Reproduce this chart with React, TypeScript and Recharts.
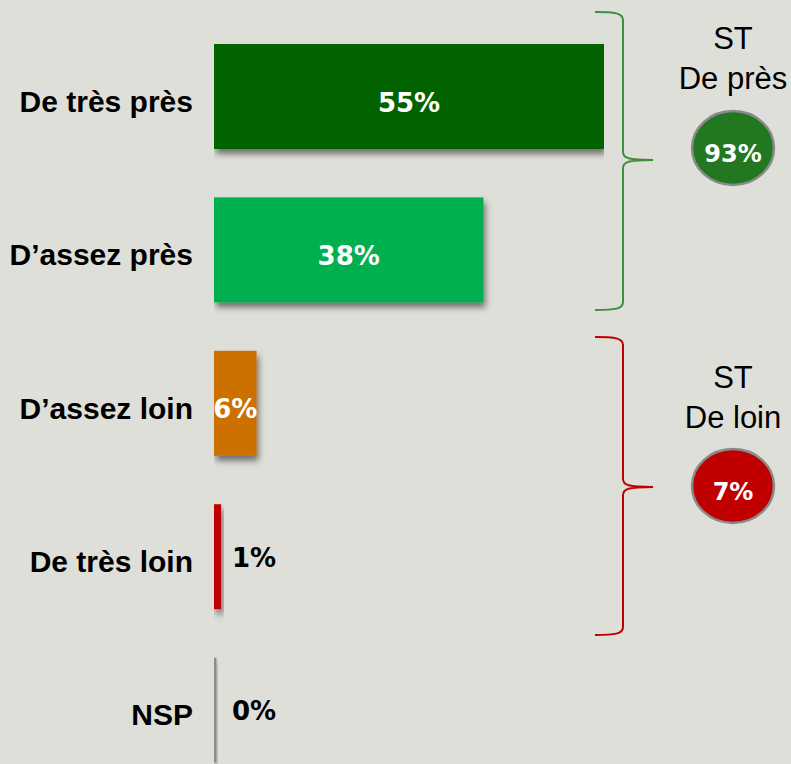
import React from 'react';
import { BarChart, Bar, XAxis, YAxis, Cell, LabelList } from 'recharts';

// Survey answers, top to bottom
const categories = ['De très près', 'D’assez près', 'D’assez loin', 'De très loin', 'NSP'];
const values = [55, 38, 6, 1, 0];
const barColors = ['#006400', '#00b050', '#cc7000', '#c00000', '#8c8c8c'];

// Sub-totals shown on the right
const groupTitles = ['De près', 'De loin'];
const groupTotals = [93, 7];
const groupColors = ['#217821', '#c00000'];
const braceColors = ['#3c8f3c', '#c00000'];

const BG = '#dfdfda';
const LABEL_FONT = '"Liberation Sans", Arial, sans-serif';
const VALUE_FONT = '"DejaVu Sans", Verdana, sans-serif';

const data = categories.map((name, i) => ({ name, value: values[i] }));

const CategoryTick = (props: any) => {
    const { x, y, payload } = props;
    return (
        <text x={x} y={y + 15} textAnchor="end" fontFamily={LABEL_FONT} fontWeight="bold" fontSize={30} fill="#000">
            {payload.value}
        </text>
    );
};

const BarShape = (props: any) => {
    const { x, y, width, height, fill } = props;
    const w = Math.max(width, 2.5); // NSP (0%) still shows a thin line
    return <rect x={x} y={y} width={w} height={height} fill={fill} filter="url(#barShadow)" />;
};

const ValueLabel = (props: any) => {
    const { x, y, width, height, value } = props;
    const inside = value >= 5;
    const tx = inside ? x + width / 2 : x + 18;
    return (
        <text
            x={tx}
            y={y + height / 2 + (inside ? 15 : 10)}
            textAnchor={inside ? 'middle' : 'start'}
            fontFamily={VALUE_FONT}
            fontWeight="bold"
            fontSize={26}
            fill={inside ? '#fff' : '#000'}
        >
            {value}%
        </text>
    );
};

// Curly brace opening to the left, tip pointing right
const bracePath = (top: number, mid: number, bottom: number) => {
    const xl = 595, xv = 623, xt = 653;
    return `M${xl} ${top} C${xl + 20} ${top} ${xv} ${top + 1} ${xv} ${top + 8} L${xv} ${mid - 8} C${xv} ${mid - 2} ${xv + 5} ${mid} ${xt} ${mid} C${xv + 5} ${mid} ${xv} ${mid + 2} ${xv} ${mid + 8} L${xv} ${bottom - 8} C${xv} ${bottom - 1} ${xl + 20} ${bottom} ${xl} ${bottom}`;
};

const groupsLayout = [
    { top: 12, mid: 160, bottom: 310, stY: 49, titleY: 89, cy: 148 },
    { top: 337, mid: 487, bottom: 635, stY: 388, titleY: 428, cy: 486 },
];

export default function App() {
    return (
        <div style={{ position: 'absolute', left: 0, top: 0, width: 791, height: 764, overflow: 'hidden', background: BG }}>
            <svg width={0} height={0} style={{ position: 'absolute' }}>
                <defs>
                    <filter id="barShadow" x="-20%" y="-20%" width="150%" height="150%">
                        <feDropShadow dx={2} dy={5} stdDeviation={3} floodColor="#000" floodOpacity={0.5} />
                    </filter>
                </defs>
            </svg>

            <BarChart
                width={791}
                height={787}
                data={data}
                layout="vertical"
                margin={{ top: 20, right: 187, bottom: 0, left: 0 }}
            >
                <XAxis type="number" domain={[0, 55]} hide allowDataOverflow />
                <YAxis
                    type="category"
                    dataKey="name"
                    width={214}
                    axisLine={false}
                    tickLine={false}
                    tickSize={0}
                    tickMargin={21}
                    tick={<CategoryTick />}
                    interval={0}
                />
                <Bar dataKey="value" barSize={105} shape={<BarShape />} isAnimationActive={false}>
                    {data.map((d, i) => (
                        <Cell key={d.name} fill={barColors[i]} />
                    ))}
                    <LabelList dataKey="value" content={<ValueLabel />} />
                </Bar>
            </BarChart>

            <svg width={791} height={764} style={{ position: 'absolute', left: 0, top: 0, pointerEvents: 'none' }}>
                {groupsLayout.map((g, i) => (
                    <g key={groupTitles[i]}>
                        <path d={bracePath(g.top, g.mid, g.bottom)} fill="none" stroke={braceColors[i]} strokeWidth={2} />
                        <text x={733} y={g.stY} textAnchor="middle" fontFamily={LABEL_FONT} fontSize={31} fill="#000">ST</text>
                        <text x={733} y={g.titleY} textAnchor="middle" fontFamily={LABEL_FONT} fontSize={31} fill="#000">{groupTitles[i]}</text>
                        <ellipse cx={733} cy={g.cy} rx={41} ry={37} fill={groupColors[i]} stroke="#8a8a8a" strokeWidth={2.5} />
                        <text x={733} y={g.cy + 14} textAnchor="middle" fontFamily={VALUE_FONT} fontWeight="bold" fontSize={24} fill="#fff">
                            {groupTotals[i]}%
                        </text>
                    </g>
                ))}
            </svg>
        </div>
    );
}
